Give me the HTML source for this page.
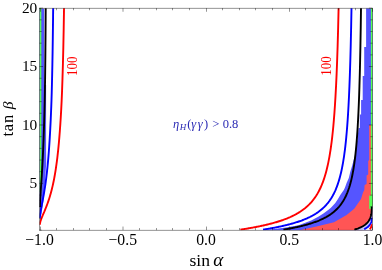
<!DOCTYPE html>
<html><head><meta charset="utf-8"><title>plot</title>
<style>html,body{margin:0;padding:0;background:#fff;width:382px;height:270px;overflow:hidden}
body{font-family:"Liberation Serif",serif}</style></head>
<body>
<div style="position:absolute;left:0;top:0;width:382px;height:270px;will-change:transform">
<svg width="382" height="270" viewBox="0 0 382 270" style="position:absolute;left:0;top:0">
<rect x="0" y="0" width="382" height="270" fill="#fff"/>
<defs><clipPath id="cp"><rect x="39.50" y="8.15" width="333.00" height="222.00"/></clipPath></defs>
<g clip-path="url(#cp)">
<path d="M366.10 8.15 L366.10 47.00 L364.20 47.00 L364.20 76.00 L362.70 76.00 L362.70 100.00 L361.10 100.00 L361.10 114.50 L359.80 114.50 L359.80 128.00 L358.60 128.00 L357.30 140.00 L355.50 150.00 L354.80 156.00 L353.90 159.10 L352.20 165.40 L350.30 171.70 L348.80 178.00 L346.60 183.10 L345.00 187.50 L343.80 189.90 L340.30 194.90 L337.80 199.30 L335.30 203.10 L333.00 205.60 L330.90 207.70 L328.80 209.50 L323.80 213.20 L318.70 216.50 L311.20 220.60 L298.60 225.20 L286.00 227.40 L272.00 229.30 L264.00 230.50 L372.50 230.50 L372.50 8.50 Z" fill="#5555ff"/>
<path d="M372.50 125.00 L369.20 125.00 L369.20 160.00 L368.20 161.00 L368.20 174.50 L366.60 175.50 L366.60 184.00 L364.60 185.00 L364.30 190.00 L363.00 192.60 L361.00 199.00 L354.20 208.80 L346.60 215.10 L334.00 222.30 L317.50 226.20 L298.50 230.50 L372.50 230.50 Z" fill="#ff5555"/>
<path d="M39.50 8.50 L44.20 8.50 L44.20 85.00 L46.10 85.00 L46.10 150.00 L46.20 163.00 L45.00 182.00 L43.50 200.00 L41.50 214.00 L39.50 219.00 Z" fill="#5555ff"/>
<rect x="370.9" y="8" width="2" height="201" fill="#55ff55"/>
<rect x="369.2" y="195.6" width="3.6" height="13.3" fill="#55ff55"/>
<rect x="39.5" y="8" width="1.8" height="184" fill="#55ff55"/>
<path d="M354.37 229.75 L355.24 229.47 L356.09 229.18 L356.91 228.89 L357.72 228.59 L358.50 228.28 L359.26 227.96 L360.00 227.63 L360.72 227.30 L361.41 226.95 L362.09 226.60 L362.74 226.23 L363.37 225.85 L363.98 225.46 L364.56 225.06 L365.13 224.64 L365.67 224.21 L366.19 223.76 L366.68 223.30 L367.16 222.82 L367.61 222.32 L368.04 221.80 L368.44 221.26 L368.82 220.70 L369.18 220.11 L369.52 219.50 L369.83 218.86 L370.12 218.19 L370.39 217.49 L370.64 216.75 L370.86 215.98 L371.05 215.16 L371.23 214.30 L371.38 213.39 L371.51 212.43 L371.61 211.41 L371.70 210.33 L371.75 209.17 L371.79 207.94 L371.80 206.62 L373.00 206.00 L373.00 231.00 L353.70 231.00 Z" fill="#c4c4ff"/>
<path d="M364.08 229.22 L364.47 229.03 L364.85 228.83 L365.21 228.63 L365.57 228.43 L365.92 228.22 L366.26 228.01 L366.59 227.80 L366.91 227.58 L367.22 227.36 L367.52 227.13 L367.81 226.90 L368.09 226.67 L368.35 226.43 L368.61 226.18 L368.86 225.93 L369.10 225.67 L369.33 225.41 L369.55 225.15 L369.76 224.87 L369.96 224.60 L370.15 224.31 L370.32 224.02 L370.49 223.72 L370.65 223.42 L370.80 223.10 L370.94 222.78 L371.06 222.45 L371.18 222.11 L371.29 221.77 L371.39 221.41 L371.47 221.05 L371.55 220.67 L371.62 220.28 L371.67 219.89 L371.72 219.48 L371.75 219.06 L371.78 218.62 L371.79 218.18 L371.80 217.71 L373.00 218.00 L373.00 231.00 L361.30 231.00 Z" fill="#fff"/>
<path d="M240.37 229.62 L241.20 229.50 L242.04 229.37 L242.87 229.24 L243.71 229.11 L244.54 228.98 L245.37 228.85 L246.20 228.71 L247.03 228.57 L247.86 228.44 L248.69 228.30 L249.51 228.15 L250.34 228.01 L251.16 227.87 L251.99 227.72 L252.81 227.57 L253.63 227.42 L254.45 227.27 L255.26 227.11 L256.08 226.96 L256.90 226.80 L257.71 226.64 L258.52 226.48 L259.33 226.31 L260.14 226.14 L260.95 225.97 L261.76 225.80 L262.56 225.63 L263.37 225.45 L264.17 225.27 L264.97 225.09 L265.77 224.91 L266.57 224.72 L267.36 224.53 L268.16 224.33 L268.95 224.14 L269.74 223.94 L270.53 223.74 L271.32 223.53 L272.11 223.32 L272.89 223.11 L273.67 222.89 L274.45 222.67 L275.23 222.45 L276.01 222.22 L276.78 221.99 L277.56 221.76 L278.33 221.52 L279.10 221.27 L279.87 221.03 L280.63 220.77 L281.40 220.52 L282.16 220.25 L282.92 219.99 L283.68 219.71 L284.43 219.44 L285.18 219.15 L285.94 218.86 L286.69 218.57 L287.43 218.27 L288.18 217.96 L288.92 217.64 L289.66 217.32 L290.40 217.00 L291.14 216.66 L291.87 216.32 L292.60 215.97 L293.33 215.61 L294.06 215.24 L294.78 214.87 L295.51 214.48 L296.23 214.09 L296.94 213.69 L297.66 213.27 L298.37 212.85 L299.08 212.41 L299.79 211.97 L300.50 211.51 L301.20 211.04 L301.90 210.56 L302.60 210.06 L303.29 209.55 L303.99 209.02 L304.68 208.48 L305.36 207.92 L306.05 207.35 L306.73 206.76 L307.41 206.15 L308.09 205.52 L308.76 204.87 L309.44 204.19 L310.10 203.50 L310.77 202.78 L311.43 202.04 L312.09 201.27 L312.75 200.47 L313.41 199.64 L314.06 198.78 L314.71 197.89 L315.36 196.96 L316.00 196.00 L316.64 194.99 L317.28 193.95 L317.91 192.86 L318.54 191.72 L319.17 190.53 L319.80 189.28 L320.42 187.98 L321.04 186.61 L321.66 185.17 L322.27 183.66 L322.88 182.07 L323.49 180.40 L324.10 178.63 L324.70 176.76 L325.30 174.79 L325.89 172.69 L326.48 170.46 L327.07 168.08 L327.66 165.55 L328.24 162.84 L328.82 159.93 L329.40 156.81 L329.97 153.45 L330.54 149.81 L331.10 145.86 L331.67 141.57 L332.23 136.89 L332.78 131.75 L333.34 126.08 L333.88 119.81 L334.43 112.83 L334.97 105.01 L335.51 96.18 L336.05 86.15 L336.58 74.65 L337.11 61.31 L337.64 45.68 L338.16 27.10 L338.68 4.64" fill="none" stroke="#ff0000" stroke-width="1.90" stroke-linejoin="round"/>
<path d="M263.05 229.62 L263.85 229.50 L264.65 229.37 L265.45 229.24 L266.25 229.11 L267.04 228.98 L267.84 228.85 L268.63 228.71 L269.43 228.57 L270.22 228.44 L271.00 228.30 L271.79 228.15 L272.58 228.01 L273.36 227.87 L274.14 227.72 L274.92 227.57 L275.70 227.42 L276.47 227.27 L277.25 227.11 L278.02 226.96 L278.79 226.80 L279.56 226.64 L280.33 226.48 L281.09 226.31 L281.85 226.14 L282.61 225.97 L283.37 225.80 L284.13 225.63 L284.88 225.45 L285.63 225.27 L286.38 225.09 L287.13 224.91 L287.88 224.72 L288.62 224.53 L289.36 224.33 L290.10 224.14 L290.84 223.94 L291.58 223.74 L292.31 223.53 L293.04 223.32 L293.77 223.11 L294.49 222.89 L295.22 222.67 L295.94 222.45 L296.66 222.22 L297.37 221.99 L298.09 221.76 L298.80 221.52 L299.51 221.27 L300.21 221.03 L300.92 220.77 L301.62 220.52 L302.32 220.25 L303.01 219.99 L303.71 219.71 L304.40 219.44 L305.09 219.15 L305.77 218.86 L306.46 218.57 L307.14 218.27 L307.82 217.96 L308.49 217.64 L309.17 217.32 L309.84 217.00 L310.50 216.66 L311.17 216.32 L311.83 215.97 L312.49 215.61 L313.15 215.24 L313.80 214.87 L314.45 214.48 L315.10 214.09 L315.74 213.69 L316.38 213.27 L317.02 212.85 L317.66 212.41 L318.29 211.97 L318.92 211.51 L319.55 211.04 L320.17 210.56 L320.79 210.06 L321.41 209.55 L322.03 209.02 L322.64 208.48 L323.25 207.92 L323.85 207.35 L324.46 206.76 L325.06 206.15 L325.65 205.52 L326.25 204.87 L326.84 204.19 L327.42 203.50 L328.01 202.78 L328.59 202.04 L329.16 201.27 L329.74 200.47 L330.31 199.64 L330.88 198.78 L331.44 197.89 L332.00 196.96 L332.56 196.00 L333.11 194.99 L333.66 193.95 L334.21 192.86 L334.76 191.72 L335.30 190.53 L335.83 189.28 L336.37 187.98 L336.90 186.61 L337.43 185.17 L337.95 183.66 L338.47 182.07 L338.99 180.40 L339.50 178.63 L340.01 176.76 L340.51 174.79 L341.02 172.69 L341.51 170.46 L342.01 168.08 L342.50 165.55 L342.99 162.84 L343.47 159.93 L343.96 156.81 L344.43 153.45 L344.91 149.81 L345.38 145.86 L345.84 141.57 L346.30 136.89 L346.76 131.75 L347.22 126.08 L347.67 119.81 L348.12 112.83 L348.56 105.01 L349.00 96.18 L349.44 86.15 L349.87 74.65 L350.30 61.31 L350.72 45.68 L351.14 27.10 L351.56 4.64" fill="none" stroke="#0000ff" stroke-width="1.90" stroke-linejoin="round"/>
<path d="M283.42 229.62 L284.17 229.50 L284.93 229.37 L285.68 229.24 L286.43 229.11 L287.18 228.98 L287.92 228.85 L288.67 228.71 L289.41 228.57 L290.15 228.44 L290.89 228.30 L291.62 228.15 L292.35 228.01 L293.08 227.87 L293.81 227.72 L294.54 227.57 L295.26 227.42 L295.98 227.27 L296.70 227.11 L297.42 226.96 L298.13 226.80 L298.84 226.64 L299.55 226.48 L300.26 226.31 L300.96 226.14 L301.66 225.97 L302.36 225.80 L303.06 225.63 L303.75 225.45 L304.44 225.27 L305.13 225.09 L305.82 224.91 L306.50 224.72 L307.18 224.53 L307.86 224.33 L308.53 224.14 L309.21 223.94 L309.88 223.74 L310.54 223.53 L311.21 223.32 L311.87 223.11 L312.53 222.89 L313.18 222.67 L313.84 222.45 L314.49 222.22 L315.14 221.99 L315.78 221.76 L316.42 221.52 L317.06 221.27 L317.70 221.03 L318.33 220.77 L318.96 220.52 L319.59 220.25 L320.21 219.99 L320.83 219.71 L321.45 219.44 L322.06 219.15 L322.68 218.86 L323.29 218.57 L323.89 218.27 L324.49 217.96 L325.09 217.64 L325.69 217.32 L326.28 217.00 L326.87 216.66 L327.46 216.32 L328.04 215.97 L328.62 215.61 L329.20 215.24 L329.77 214.87 L330.34 214.48 L330.91 214.09 L331.48 213.69 L332.04 213.27 L332.59 212.85 L333.15 212.41 L333.70 211.97 L334.25 211.51 L334.79 211.04 L335.33 210.56 L335.87 210.06 L336.40 209.55 L336.93 209.02 L337.46 208.48 L337.98 207.92 L338.50 207.35 L339.02 206.76 L339.53 206.15 L340.04 205.52 L340.54 204.87 L341.05 204.19 L341.55 203.50 L342.04 202.78 L342.53 202.04 L343.02 201.27 L343.50 200.47 L343.98 199.64 L344.46 198.78 L344.93 197.89 L345.40 196.96 L345.87 196.00 L346.33 194.99 L346.79 193.95 L347.25 192.86 L347.70 191.72 L348.14 190.53 L348.59 189.28 L349.03 187.98 L349.46 186.61 L349.90 185.17 L350.32 183.66 L350.75 182.07 L351.17 180.40 L351.59 178.63 L352.00 176.76 L352.41 174.79 L352.81 172.69 L353.22 170.46 L353.61 168.08 L354.01 165.55 L354.40 162.84 L354.78 159.93 L355.17 156.81 L355.54 153.45 L355.92 149.81 L356.29 145.86 L356.65 141.57 L357.02 136.89 L357.37 131.75 L357.73 126.08 L358.08 119.81 L358.43 112.83 L358.77 105.01 L359.11 96.18 L359.44 86.15 L359.77 74.65 L360.10 61.31 L360.42 45.68 L360.74 27.10 L361.05 4.64" fill="none" stroke="#000" stroke-width="1.90" stroke-linejoin="round"/>
<path d="M354.37 229.75 L355.24 229.47 L356.09 229.18 L356.91 228.89 L357.72 228.59 L358.50 228.28 L359.26 227.96 L360.00 227.63 L360.72 227.30 L361.41 226.95 L362.09 226.60 L362.74 226.23 L363.37 225.85 L363.98 225.46 L364.56 225.06 L365.13 224.64 L365.67 224.21 L366.19 223.76 L366.68 223.30 L367.16 222.82 L367.61 222.32 L368.04 221.80 L368.44 221.26 L368.82 220.70 L369.18 220.11 L369.52 219.50 L369.83 218.86 L370.12 218.19 L370.39 217.49 L370.64 216.75 L370.86 215.98 L371.05 215.16 L371.23 214.30 L371.38 213.39 L371.51 212.43 L371.61 211.41 L371.70 210.33 L371.75 209.17 L371.79 207.94 L371.80 206.62" fill="none" stroke="#000" stroke-width="1.90" stroke-linejoin="round"/>
<path d="M364.08 229.22 L364.47 229.03 L364.85 228.83 L365.21 228.63 L365.57 228.43 L365.92 228.22 L366.26 228.01 L366.59 227.80 L366.91 227.58 L367.22 227.36 L367.52 227.13 L367.81 226.90 L368.09 226.67 L368.35 226.43 L368.61 226.18 L368.86 225.93 L369.10 225.67 L369.33 225.41 L369.55 225.15 L369.76 224.87 L369.96 224.60 L370.15 224.31 L370.32 224.02 L370.49 223.72 L370.65 223.42 L370.80 223.10 L370.94 222.78 L371.06 222.45 L371.18 222.11 L371.29 221.77 L371.39 221.41 L371.47 221.05 L371.55 220.67 L371.62 220.28 L371.67 219.89 L371.72 219.48 L371.75 219.06 L371.78 218.62 L371.79 218.18 L371.80 217.71" fill="none" stroke="#0000ff" stroke-width="1.90" stroke-linejoin="round"/>
<path d="M369.57 229.22 L369.68 229.12 L369.79 229.02 L369.90 228.91 L370.00 228.81 L370.10 228.70 L370.20 228.59 L370.30 228.48 L370.39 228.37 L370.48 228.26 L370.57 228.15 L370.65 228.04 L370.73 227.92 L370.81 227.81 L370.88 227.69 L370.95 227.57 L371.02 227.45 L371.09 227.33 L371.15 227.21 L371.21 227.09 L371.27 226.97 L371.32 226.84 L371.38 226.71 L371.42 226.59 L371.47 226.46 L371.51 226.33 L371.55 226.20 L371.59 226.06 L371.62 225.93 L371.65 225.79 L371.68 225.65 L371.71 225.51 L371.73 225.37 L371.75 225.23 L371.76 225.09 L371.78 224.94 L371.79 224.79 L371.79 224.64 L371.80 224.49 L371.80 224.34" fill="none" stroke="#ff0000" stroke-width="1.90" stroke-linejoin="round"/>
<path d="M39.90 224.74 L39.90 224.53 L39.91 224.32 L39.92 224.11 L39.94 223.89 L39.96 223.67 L39.99 223.45 L40.03 223.22 L40.06 222.99 L40.11 222.75 L40.16 222.51 L40.21 222.27 L40.27 222.02 L40.33 221.77 L40.40 221.51 L40.48 221.24 L40.56 220.97 L40.64 220.70 L40.73 220.42 L40.83 220.13 L40.93 219.84 L41.03 219.54 L41.14 219.24 L41.26 218.93 L41.38 218.61 L41.50 218.28 L41.64 217.95 L41.77 217.61 L41.91 217.26 L42.06 216.91 L42.21 216.54 L42.37 216.17 L42.53 215.78 L42.69 215.39 L42.86 214.99 L43.04 214.58 L43.22 214.15 L43.41 213.72 L43.60 213.27 L43.80 212.81 L44.00 212.34 L44.20 211.85 L44.42 211.35 L44.63 210.84 L44.85 210.31 L45.08 209.76 L45.31 209.20 L45.55 208.62 L45.79 208.02 L46.04 207.40 L46.29 206.76 L46.55 206.10 L46.81 205.42 L47.07 204.71 L47.34 203.97 L47.62 203.21 L47.90 202.43 L48.19 201.61 L48.48 200.76 L48.77 199.87 L49.07 198.95 L49.38 197.99 L49.69 196.99 L50.00 195.95 L50.32 194.85 L50.65 193.71 L50.98 192.52 L51.31 191.27 L51.65 189.96 L52.00 188.58 L52.34 187.13 L52.70 185.60 L53.06 183.99 L53.42 182.28 L53.79 180.48 L54.16 178.57 L54.54 176.54 L54.92 174.38 L55.30 172.07 L55.70 169.61 L56.09 166.97 L56.49 164.14 L56.90 161.09 L57.31 157.80 L57.72 154.23 L58.14 150.36 L58.56 146.13 L58.99 141.49 L59.42 136.39 L59.86 130.76 L60.30 124.49 L60.75 117.49 L61.20 109.60 L61.65 100.65 L62.08 90.42 L62.49 78.59 L62.90 64.78 L63.30 48.42 L63.69 28.75 L64.08 4.64" fill="none" stroke="#ff0000" stroke-width="1.90" stroke-linejoin="round"/>
<path d="M39.90 218.11 L39.90 217.87 L39.91 217.61 L39.91 217.35 L39.92 217.09 L39.94 216.83 L39.95 216.55 L39.97 216.28 L39.99 216.00 L40.01 215.71 L40.04 215.42 L40.07 215.12 L40.10 214.82 L40.14 214.51 L40.18 214.19 L40.22 213.87 L40.26 213.54 L40.31 213.21 L40.36 212.87 L40.41 212.52 L40.47 212.17 L40.52 211.80 L40.59 211.43 L40.65 211.05 L40.72 210.67 L40.79 210.27 L40.86 209.87 L40.93 209.45 L41.01 209.03 L41.09 208.60 L41.17 208.15 L41.26 207.70 L41.35 207.23 L41.44 206.76 L41.54 206.27 L41.63 205.77 L41.73 205.25 L41.84 204.73 L41.94 204.18 L42.05 203.63 L42.16 203.06 L42.28 202.47 L42.39 201.87 L42.51 201.24 L42.64 200.60 L42.76 199.95 L42.89 199.27 L43.02 198.57 L43.15 197.85 L43.29 197.11 L43.43 196.34 L43.57 195.55 L43.72 194.73 L43.87 193.88 L44.02 193.01 L44.17 192.10 L44.32 191.17 L44.48 190.19 L44.64 189.19 L44.81 188.14 L44.98 187.05 L45.15 185.92 L45.32 184.75 L45.49 183.52 L45.67 182.25 L45.85 180.92 L46.04 179.53 L46.22 178.08 L46.41 176.56 L46.60 174.97 L46.80 173.31 L46.99 171.56 L47.19 169.72 L47.40 167.78 L47.60 165.75 L47.81 163.60 L48.02 161.32 L48.23 158.92 L48.45 156.37 L48.67 153.66 L48.89 150.77 L49.11 147.70 L49.34 144.41 L49.57 140.89 L49.80 137.11 L50.04 133.04 L50.27 128.64 L50.51 123.88 L50.76 118.70 L51.00 113.05 L51.25 106.87 L51.50 100.06 L51.73 92.54 L51.94 84.18 L52.16 74.83 L52.38 64.32 L52.59 52.39 L52.79 38.76 L52.99 23.02 L53.20 4.64" fill="none" stroke="#0000ff" stroke-width="1.90" stroke-linejoin="round"/>
<path d="M39.90 207.02 L39.90 206.70 L39.90 206.37 L39.91 206.03 L39.91 205.70 L39.92 205.35 L39.92 205.00 L39.93 204.64 L39.94 204.28 L39.95 203.91 L39.96 203.53 L39.98 203.14 L39.99 202.75 L40.01 202.35 L40.03 201.95 L40.04 201.53 L40.06 201.11 L40.09 200.68 L40.11 200.24 L40.13 199.80 L40.16 199.34 L40.18 198.87 L40.21 198.40 L40.24 197.91 L40.27 197.42 L40.30 196.91 L40.33 196.40 L40.37 195.87 L40.40 195.33 L40.44 194.78 L40.48 194.21 L40.52 193.63 L40.56 193.04 L40.60 192.44 L40.64 191.82 L40.68 191.19 L40.73 190.54 L40.78 189.87 L40.82 189.19 L40.87 188.49 L40.92 187.77 L40.98 187.04 L41.03 186.28 L41.08 185.51 L41.14 184.71 L41.20 183.89 L41.25 183.05 L41.31 182.19 L41.37 181.30 L41.44 180.38 L41.50 179.44 L41.56 178.47 L41.63 177.47 L41.70 176.44 L41.76 175.37 L41.83 174.28 L41.90 173.14 L41.98 171.97 L42.05 170.76 L42.12 169.51 L42.20 168.21 L42.28 166.87 L42.36 165.48 L42.44 164.03 L42.52 162.54 L42.60 160.98 L42.68 159.37 L42.77 157.69 L42.85 155.94 L42.94 154.12 L43.03 152.22 L43.12 150.24 L43.21 148.17 L43.30 146.01 L43.39 143.74 L43.49 141.37 L43.59 138.89 L43.68 136.27 L43.78 133.53 L43.88 130.64 L43.98 127.59 L44.08 124.37 L44.19 120.97 L44.29 117.36 L44.40 113.54 L44.51 109.48 L44.61 105.15 L44.72 100.54 L44.82 95.60 L44.91 90.31 L45.00 84.62 L45.09 78.49 L45.17 71.87 L45.26 64.69 L45.34 56.88 L45.42 48.35 L45.50 39.00 L45.58 28.71 L45.65 17.32 L45.74 4.64" fill="none" stroke="#000" stroke-width="1.90" stroke-linejoin="round"/>
</g>
<rect x="39.50" y="8.15" width="333.00" height="222.00" stroke="#000" stroke-width="0.42" fill="none"/>
<path d="M40.50 230.15 v-3.60 M40.50 8.15 v3.60 M56.50 230.15 v-2.10 M56.50 8.15 v2.10 M73.50 230.15 v-2.10 M73.50 8.15 v2.10 M89.50 230.15 v-2.10 M89.50 8.15 v2.10 M106.50 230.15 v-2.10 M106.50 8.15 v2.10 M123.00 230.15 v-3.60 M123.00 8.15 v3.60 M139.50 230.15 v-2.10 M139.50 8.15 v2.10 M156.50 230.15 v-2.10 M156.50 8.15 v2.10 M172.50 230.15 v-2.10 M172.50 8.15 v2.10 M189.50 230.15 v-2.10 M189.50 8.15 v2.10 M206.50 230.15 v-3.60 M206.50 8.15 v3.60 M222.50 230.15 v-2.10 M222.50 8.15 v2.10 M239.50 230.15 v-2.10 M239.50 8.15 v2.10 M255.50 230.15 v-2.10 M255.50 8.15 v2.10 M272.50 230.15 v-2.10 M272.50 8.15 v2.10 M289.50 230.15 v-3.60 M289.50 8.15 v3.60 M305.50 230.15 v-2.10 M305.50 8.15 v2.10 M322.50 230.15 v-2.10 M322.50 8.15 v2.10 M338.50 230.15 v-2.10 M338.50 8.15 v2.10 M355.50 230.15 v-2.10 M355.50 8.15 v2.10 M372.50 230.15 v-3.60 M372.50 8.15 v3.60 M39.50 230.15 h2.10 M372.50 230.15 h-2.10 M39.50 218.47 h2.10 M372.50 218.47 h-2.10 M39.50 206.78 h2.10 M372.50 206.78 h-2.10 M39.50 195.10 h2.10 M372.50 195.10 h-2.10 M39.50 183.41 h3.60 M372.50 183.41 h-3.60 M39.50 171.73 h2.10 M372.50 171.73 h-2.10 M39.50 160.04 h2.10 M372.50 160.04 h-2.10 M39.50 148.36 h2.10 M372.50 148.36 h-2.10 M39.50 136.68 h2.10 M372.50 136.68 h-2.10 M39.50 124.99 h3.60 M372.50 124.99 h-3.60 M39.50 113.31 h2.10 M372.50 113.31 h-2.10 M39.50 101.62 h2.10 M372.50 101.62 h-2.10 M39.50 89.94 h2.10 M372.50 89.94 h-2.10 M39.50 78.26 h2.10 M372.50 78.26 h-2.10 M39.50 66.57 h3.60 M372.50 66.57 h-3.60 M39.50 54.89 h2.10 M372.50 54.89 h-2.10 M39.50 43.20 h2.10 M372.50 43.20 h-2.10 M39.50 31.52 h2.10 M372.50 31.52 h-2.10 M39.50 19.83 h2.10 M372.50 19.83 h-2.10 M39.50 8.15 h3.60 M372.50 8.15 h-3.60" stroke="#000" stroke-width="0.42" fill="none"/>
<text x="39.50" y="244.80" font-size="15.70" text-anchor="middle" fill="#000" style="font-family:'Liberation Serif',serif" >−1.0</text>
<text x="122.75" y="244.80" font-size="15.70" text-anchor="middle" fill="#000" style="font-family:'Liberation Serif',serif" >−0.5</text>
<text x="206.00" y="244.80" font-size="15.70" text-anchor="middle" fill="#000" style="font-family:'Liberation Serif',serif" >0.0</text>
<text x="289.25" y="244.80" font-size="15.70" text-anchor="middle" fill="#000" style="font-family:'Liberation Serif',serif" >0.5</text>
<text x="372.50" y="244.80" font-size="15.70" text-anchor="middle" fill="#000" style="font-family:'Liberation Serif',serif" >1.0</text>
<text x="37.30" y="188.06" font-size="15.40" text-anchor="end" fill="#000" style="font-family:'Liberation Serif',serif" >5</text>
<text x="37.30" y="129.64" font-size="15.40" text-anchor="end" fill="#000" style="font-family:'Liberation Serif',serif" >10</text>
<text x="37.30" y="71.22" font-size="15.40" text-anchor="end" fill="#000" style="font-family:'Liberation Serif',serif" >15</text>
<text x="37.30" y="12.80" font-size="15.40" text-anchor="end" fill="#000" style="font-family:'Liberation Serif',serif" >20</text>
<text x="206.30" y="265.50" font-size="17.60" text-anchor="middle" fill="#000" style="font-family:'Liberation Serif',serif" >sin <tspan font-style="italic" font-size="19" dx="-1.3">α</tspan></text>
<text x="0.00" y="0.00" font-size="16.60" text-anchor="middle" fill="#000" style="font-family:'Liberation Serif',serif" transform="translate(13.2 118.6) rotate(-90)" letter-spacing="0.7">tan <tspan font-style="italic" font-size="15.6">β</tspan></text>
<text x="0.00" y="0.00" font-size="13.60" text-anchor="middle" fill="#ff0000" style="font-family:'Liberation Serif',serif" transform="translate(77.3 66.2) rotate(-90) scale(0.95 1.02)">100</text>
<text x="0.00" y="0.00" font-size="13.60" text-anchor="middle" fill="#ff0000" style="font-family:'Liberation Serif',serif" transform="translate(331.0 66.0) rotate(-90) scale(0.95 1.02)">100</text>
<text x="173.00" y="127.50" font-size="12.50" text-anchor="start" fill="#2a2ab4" style="font-family:'Liberation Serif',serif" ><tspan x="172.9" font-style="italic">η</tspan><tspan x="179.8" dy="2" font-style="italic" font-size="9">H</tspan><tspan x="187.3" dy="-2">(</tspan><tspan x="191.2" font-style="italic">γ</tspan><tspan x="197.8" font-style="italic">γ</tspan><tspan x="204.0">)</tspan><tspan x="212.2">&gt;</tspan><tspan x="222.7">0.8</tspan></text>
</svg>
</div>
</body></html>
